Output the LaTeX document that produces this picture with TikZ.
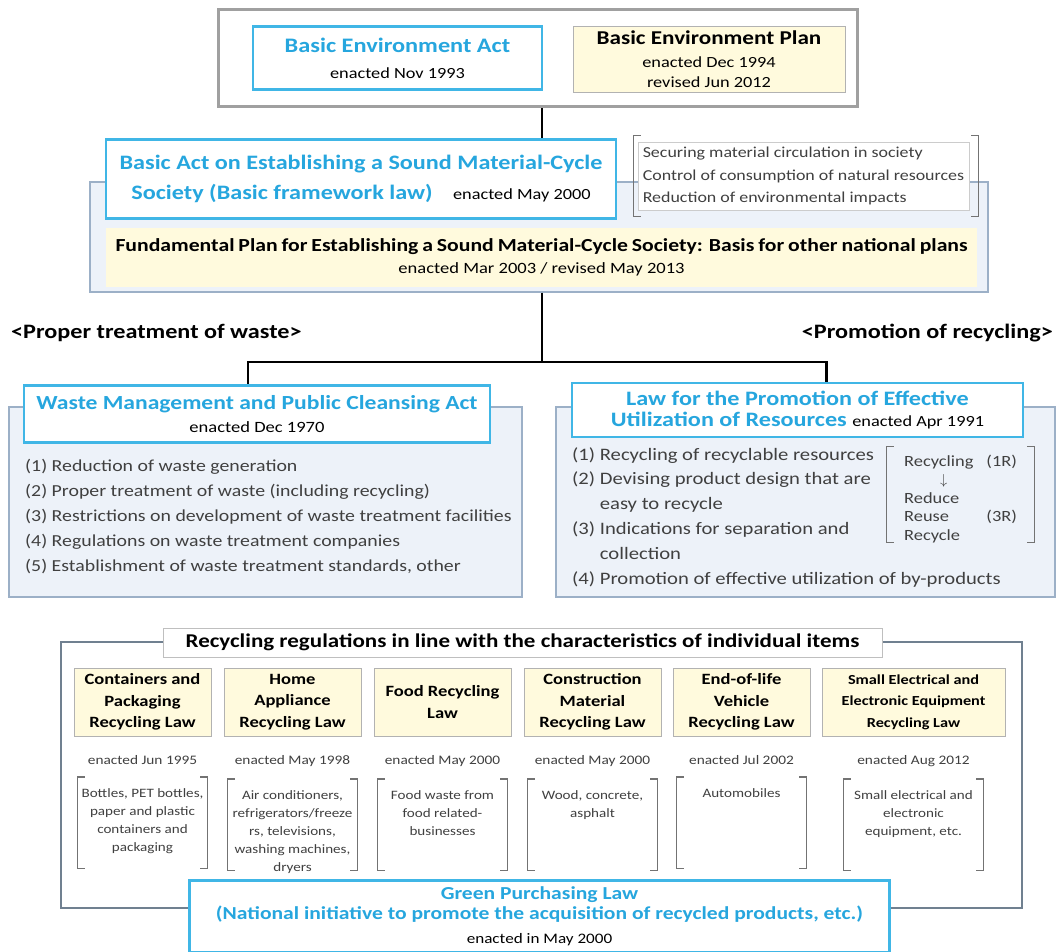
\documentclass[tikz,border=0pt]{standalone}
\usepackage{fontspec}
\setmainfont{Carlito}[FakeStretch=1.18]
\usetikzlibrary{positioning,calc}

\definecolor{lawcyan}{RGB}{38,166,222}
\definecolor{lawborder}{RGB}{64,182,230}
\definecolor{planyellow}{RGB}{255,250,221}
\definecolor{panelfill}{RGB}{237,242,249}
\definecolor{panelborder}{RGB}{156,176,199}
\definecolor{framegray}{RGB}{160,160,160}
\definecolor{framebluegray}{RGB}{112,128,144}
\definecolor{bodygray}{RGB}{64,64,64}

\newcommand{\fsize}[2]{\fontsize{#1}{#2}\selectfont}
\newcommand{\datefont}{\fsize{15.5}{18}\mdseries\color{black}}
\newcommand{\squarebrackets}[1]{%
  \draw[bracketline] ([xshift=7pt]#1.north west) -- (#1.north west) -- (#1.south west) -- ([xshift=7pt]#1.south west);
  \draw[bracketline] ([xshift=-7pt]#1.north east) -- (#1.north east) -- (#1.south east) -- ([xshift=-7pt]#1.south east);}

\begin{document}
\begin{tikzpicture}[
  x=1pt,y=-1pt,
  lawbox/.style={rectangle, draw=lawborder, line width=2.6pt, fill=white, align=center, inner sep=0pt, text=lawcyan},
  planbox/.style={rectangle, draw=black!30, line width=0.8pt, fill=planyellow, align=center, inner sep=0pt},
  panel/.style={rectangle, draw=panelborder, line width=1.2pt, fill=panelfill, inner sep=0pt},
  emptybox/.style={rectangle, inner sep=0pt},
  heading/.style={font=\fsize{20.5}{24}\bfseries, inner sep=0pt},
  itembox/.style={planbox, minimum width=137, minimum height=68, font=\fsize{15.7}{21.5}\bfseries},
  enacted/.style={font=\fsize{13}{16}, text=bodygray, inner sep=0pt},
  brk/.style={emptybox, minimum width=129, minimum height=91},
  brktext/.style={align=center, font=\fsize{12.8}{18.2}, text=bodygray, inner sep=0pt},
  link/.style={draw=black, line width=2.4pt},
  bracketline/.style={draw=black!55, line width=1.3pt},
  ]
  \useasboundingbox (0,0) rectangle (1057,952);

  % Basic Environment Act / Plan
  \node[rectangle, draw=framegray, line width=3pt, minimum width=639, minimum height=97] (envframe) at (538,58.5) {};
  \node[lawbox, minimum width=289, minimum height=63, font=\fsize{20.6}{26}\bfseries] (bea) at (397.5,58)
    {Basic Environment Act\\\datefont enacted Nov 1993};
  \node[planbox, minimum width=272, minimum height=66, font=\fsize{15.5}{20}] (bep) at (709,59)
    {\fsize{19.6}{22}\bfseries Basic Environment Plan\\[3pt]enacted Dec 1994\\revised Jun 2012};

  % Basic Act on Establishing a Sound Material-Cycle Society
  \node[panel, minimum width=898, minimum height=110] (bapanel) at (539,237) {};
  \node[lawbox, minimum width=510, minimum height=79, font=\fsize{20.5}{30}\bfseries] (basicact) at (361,179)
    {Basic Act on Establishing a Sound Material-Cycle\\
     Society (Basic framework law)\quad{\datefont enacted May 2000}};
  \node[emptybox, minimum width=344, minimum height=80] (aimsbrk) at (806,176) {};
  \node[rectangle, fill=white, draw=black!20, line width=0.6pt, minimum width=331, minimum height=68,
    align=left, inner sep=3pt, text=bodygray, font=\fsize{15.2}{22.5}] (aims) at (803.5,176)
    {Securing material circulation in society\\Control of consumption of natural resources\\Reduction of environmental impacts};
  \squarebrackets{aimsbrk}
  \node[planbox, draw=none, minimum width=871, minimum height=59, font=\fsize{15.7}{22}] (fplan) at (541.5,257.5)
    {\fsize{18.4}{22}\bfseries\makebox[852pt][s]{Fundamental Plan for Establishing a Sound Material-Cycle Society: Basis for other national plans}\\
     enacted Mar 2003 / revised May 2013};
  \draw[link] ([xshift=4pt]envframe.south) -- ([xshift=4pt]envframe.south |- basicact.north);

  % headings
  \node[heading, anchor=west] (hwaste) at (11,333) {<Proper treatment of waste>};
  \node[heading, anchor=east] (hrecycle) at (1053,333) {<Promotion of recycling>};

  % Waste Management and Public Cleansing Act
  \node[panel, minimum width=513, minimum height=190] (wastepanel) at (265.5,502) {};
  \node[lawbox, minimum width=466, minimum height=57, font=\fsize{20}{23}\bfseries] (wm) at (257,414)
    {Waste Management and Public Cleansing Act\\
     \fsize{15.7}{18}\mdseries\color{black}enacted Dec 1970};
  \node[anchor=north west, align=left, font=\fsize{16.8}{25}, text=bodygray, inner sep=0pt] (wastelist) at (25,459)
    {(1) Reduction of waste generation\\
     (2) Proper treatment of waste (including recycling)\\
     (3) Restrictions on development of waste treatment facilities\\
     (4) Regulations on waste treatment companies\\
     (5) Establishment of waste treatment standards, other};

  % Law for the Promotion of Effective Utilization of Resources
  \node[panel, minimum width=499, minimum height=190] (recpanel) at (805.5,502) {};
  \node[lawbox, minimum width=451, minimum height=54, font=\fsize{20.5}{21}\bfseries] (lpe) at (797.5,410)
    {Law for the Promotion of Effective\\
     Utilization of Resources {\datefont enacted Apr 1991}};
  \node[anchor=north west, align=left, font=\fsize{17.5}{24.8}, text=bodygray, inner sep=0pt] (reclist) at (572,447)
    {(1) Recycling of recyclable resources\\
     (2) Devising product design that are\\
     \phantom{(2) }easy to recycle\\
     (3) Indications for separation and\\
     \phantom{(3) }collection\\
     (4) Promotion of effective utilization of by-products};
  \node[emptybox, minimum width=147, minimum height=95] (rbrk) at (960.5,494.5) {};
  \squarebrackets{rbrk}
  \node[anchor=north west, inner sep=0pt, font=\fsize{15.6}{18.5}, text=bodygray] (threer) at (904,453)
    {\begin{tabular}{@{}l@{\hspace{13pt}}l@{}}
      Recycling & (1R)\\
      \hspace{36pt}$\downarrow$ & \\
      Reduce & \\
      Reuse & (3R)\\
      Recycle &
    \end{tabular}};

  % tree
  \coordinate (split) at (542,362);
  \draw[link] (split |- bapanel.south) -- (split);
  \draw[link] (split) -| ([xshift=-9pt]wm.north);
  \draw[link] (split) -| ([xshift=29pt]lpe.north);

  % Recycling regulations for individual items
  \node[rectangle, draw=framebluegray, line width=2.5pt, fill=white, minimum width=961, minimum height=266] (itemframe) at (541.5,775) {};
  \node[rectangle, draw=black!25, line width=0.8pt, fill=white, minimum width=719, minimum height=29, inner sep=0pt,
    font=\fsize{19.5}{22}\bfseries] (itemtitle) at (522.5,642.5)
    {Recycling regulations in line with the characteristics of individual items};

  % Containers and Packaging
  \node[itembox] (cont) at (142.5,702) {Containers and\\Packaging\\Recycling Law};
  \node[enacted, below=19pt of cont] (contdate) {enacted Jun 1995};
  \node[brk, below=12pt of contdate] (contbrk) {};
  \node[brktext, below=11pt of contbrk.north] (contitems) {Bottles, PET bottles,\\paper and plastic\\containers and\\packaging};
  \squarebrackets{contbrk}

  % Home Appliance
  \node[itembox] (home) at (292.5,702) {Home\\Appliance\\Recycling Law};
  \node[enacted, below=19pt of home] (homedate) {enacted May 1998};
  \node[brk, below=12pt of homedate] (homebrk) {};
  \node[brktext, below=11pt of homebrk.north] (homeitems) {Air conditioners,\\refrigerators/freeze\\rs, televisions,\\washing machines,\\dryers};
  \squarebrackets{homebrk}

  % Food
  \node[itembox] (food) at (442.5,702) {Food Recycling\\Law};
  \node[enacted, below=19pt of food] (fooddate) {enacted May 2000};
  \node[brk, below=12pt of fooddate] (foodbrk) {};
  \node[brktext, below=11pt of foodbrk.north] (fooditems) {Food waste from\\food related-\\businesses};
  \squarebrackets{foodbrk}

  % Construction Material
  \node[itembox] (cons) at (592.5,702) {Construction\\Material\\Recycling Law};
  \node[enacted, below=19pt of cons] (consdate) {enacted May 2000};
  \node[brk, below=12pt of consdate] (consbrk) {};
  \node[brktext, below=11pt of consbrk.north] (consitems) {Wood, concrete,\\asphalt};
  \squarebrackets{consbrk}

  % End-of-life Vehicle
  \node[itembox] (elv) at (741.5,702) {End-of-life\\Vehicle\\Recycling Law};
  \node[enacted, below=19pt of elv] (elvdate) {enacted Jul 2002};
  \node[brk, below=12pt of elvdate] (elvbrk) {};
  \node[brktext, below=11pt of elvbrk.north] (elvitems) {Automobiles};
  \squarebrackets{elvbrk}

  % Small Electrical and Electronic Equipment
  \node[itembox, minimum width=183, font=\fsize{13.8}{21.5}\bfseries] (small) at (913.5,702) {Small Electrical and\\Electronic Equipment\\Recycling Law};
  \node[enacted, below=19pt of small] (smalldate) {enacted Aug 2012};
  \node[brk, minimum width=139, below=12pt of smalldate] (smallbrk) {};
  \node[brktext, below=11pt of smallbrk.north] (smallitems) {Small electrical and\\electronic\\equipment, etc.};
  \squarebrackets{smallbrk}

  % Green Purchasing Law
  \node[lawbox, minimum width=700, minimum height=72, font=\fsize{18.3}{20}\bfseries] (gpl) at (539.5,916.5)
    {Green Purchasing Law\\
     (National initiative to promote the acquisition of recycled products, etc.)\\[4pt]
     \fsize{14.5}{17}\mdseries\color{black}enacted in May 2000};
\end{tikzpicture}
\end{document}
